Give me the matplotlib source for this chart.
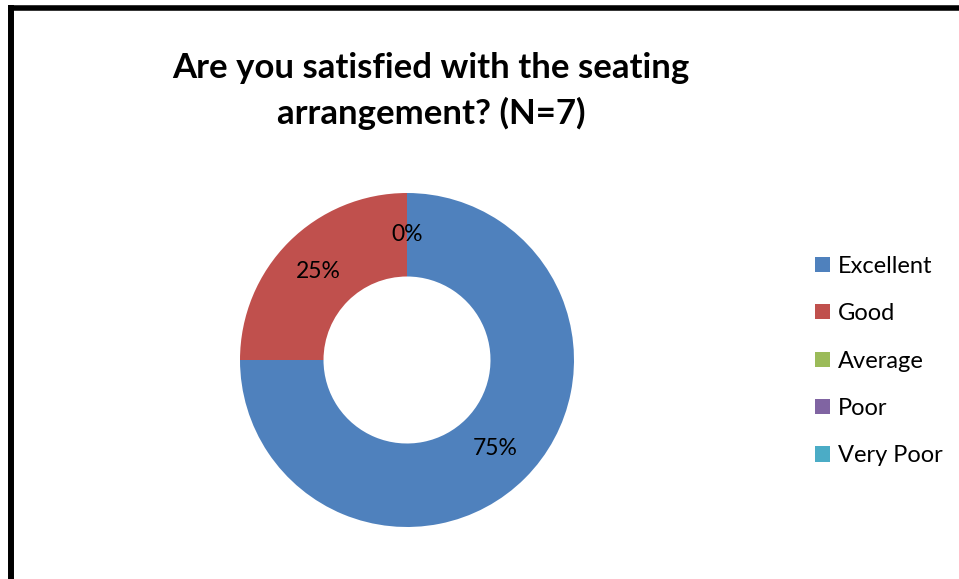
import matplotlib
matplotlib.use("Agg")
import matplotlib.pyplot as plt
from matplotlib.lines import Line2D
from matplotlib.patches import Patch
import numpy as np

# data
categories = ["Excellent", "Good", "Average", "Poor", "Very Poor"]
shares = [75, 25, 0, 0, 0]
colors = ["#4F81BD", "#C0504D", "#9BBB59", "#8064A2", "#4BACC6"]
title = "Are you satisfied with the seating\narrangement? (N=7)"

plt.rcParams['font.family'] = ['Lato', 'DejaVu Sans']

W, H = 959, 579
fig = plt.figure(figsize=(W / 100, H / 100), dpi=100)

# donut placed by pixel box (centre 407,360, radius 167)
cx, cy, r = 407, 360, 167
ax = fig.add_axes([(cx - r) / W, (H - cy - r) / H, 2 * r / W, 2 * r / H])
wedges, _ = ax.pie(shares, colors=colors, startangle=90, counterclock=False,
                   radius=1, wedgeprops=dict(width=0.5, linewidth=0))
ax.set_xlim(-1, 1)
ax.set_ylim(-1, 1)
ax.set_aspect("equal")
ax.axis("off")

# percentage labels at ring middle; zero slices share one label
seen = set()
for w, v in zip(wedges, shares):
    ang = np.deg2rad((w.theta1 + w.theta2) / 2)
    pos = (round(np.cos(ang), 3), round(np.sin(ang), 3))
    if pos in seen:
        continue
    seen.add(pos)
    ax.text(0.75 * np.cos(ang), 0.75 * np.sin(ang), f"{v}%", ha="center", va="center",
            fontsize=16.5, color="black")

fig.text(431 / W, 1 - 91 / H, title, ha="center", va="center", fontsize=25,
         fontweight="bold", linespacing=1.45)

handles = [Patch(facecolor=c, edgecolor="none") for c in colors]
fig.legend(handles, categories, loc="center left", bbox_to_anchor=(815 / W, 1 - 361 / H),
           frameon=False, fontsize=17, handlelength=0.62, handleheight=0.62,
           handletextpad=0.35, labelspacing=1.12, borderpad=0, borderaxespad=0)

# black frame on left and top
fig.add_artist(Line2D([11 / W, 11 / W], [0, 1 - 5 / H], color="black", linewidth=4.3,
                      transform=fig.transFigure, solid_capstyle="butt"))
fig.add_artist(Line2D([8 / W, 1], [1 - 7.5 / H, 1 - 7.5 / H], color="black", linewidth=4,
                      transform=fig.transFigure, solid_capstyle="butt"))

fig.savefig("out.png", dpi=100, facecolor="white")
